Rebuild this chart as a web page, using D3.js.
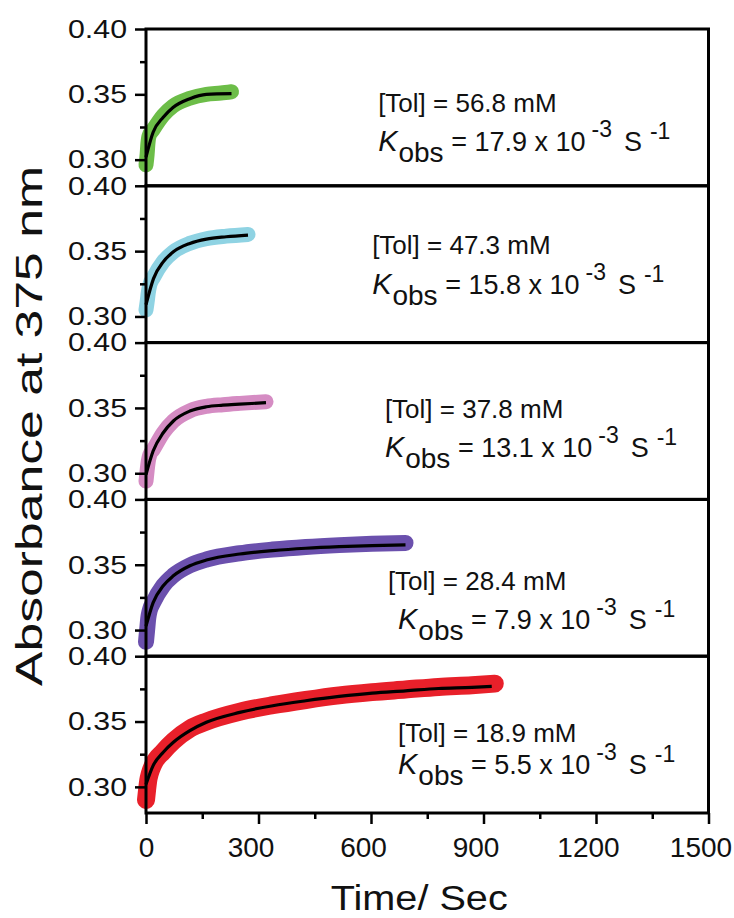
<!DOCTYPE html>
<html lang="en">
<head>
<meta charset="UTF-8">
<title>Absorbance at 375 nm vs time</title>
<script src="https://cdn.jsdelivr.net/npm/d3@7"></script>
<style>
  body { margin: 0; background: #fff; }
  svg text { font-family: "Liberation Sans", Arial, sans-serif; fill: #111; }
</style>
</head>
<body>
<svg id="chart" width="734" height="918"></svg>
<script>
// values, top panel first
const tolConc = ["56.8", "47.3", "37.8", "28.4", "18.9"];
const kObs = ["17.9", "15.8", "13.1", "7.9", "5.5"];

const yTicks = [0.40, 0.35, 0.30];
const yMinorTicks = [0.375, 0.325];
const xTicks = [0, 300, 600, 900, 1200, 1500];
const xMinorTicks = [150, 450, 750, 1050, 1350];

// [time (s), absorbance]
const greenData = [[0,0.296],[3,0.304],[5,0.312],[8,0.318],[19,0.323],[46,0.334],[72,0.341],[117,0.347],[161,0.350],[200,0.351],[228,0.352]];
const greenFit  = [[0,0.302],[19,0.321],[46,0.3325],[72,0.340],[117,0.3467],[161,0.350],[228,0.3505]];

const blueData = [[0,0.305],[3,0.311],[6,0.318],[10,0.324],[20,0.330],[46,0.342],[73,0.3495],[117,0.356],[161,0.3595],[214,0.3615],[272,0.3628]];
const blueFit  = [[0,0.309],[20,0.329],[46,0.3418],[73,0.3495],[117,0.3559],[161,0.3592],[214,0.361],[272,0.3623]];

const pinkData = [[0,0.294],[3,0.302],[6,0.309],[10,0.314],[19,0.318],[46,0.331],[73,0.340],[117,0.3478],[161,0.3512],[205,0.3525],[250,0.3535],[320,0.3548]];
const pinkFit  = [[0,0.299],[19,0.317],[46,0.331],[73,0.340],[117,0.3476],[161,0.3509],[205,0.3521],[250,0.3529],[320,0.354]];

const purpleData = [[0,0.291],[3,0.300],[6,0.309],[10,0.315],[19,0.321],[46,0.334],[73,0.3418],[117,0.3495],[161,0.354],[250,0.3588],[338,0.3616],[426,0.3636],[515,0.365],[603,0.366],[692,0.3667]];
const purpleFit  = [[0,0.303],[19,0.321],[46,0.3339],[73,0.3415],[117,0.3492],[161,0.3536],[250,0.3582],[338,0.3608],[426,0.3626],[515,0.3638],[603,0.3646],[692,0.3652]];

const redData = [[0,0.290],[3,0.298],[6,0.305],[10,0.310],[19,0.317],[46,0.327],[73,0.335],[117,0.3445],[161,0.350],[250,0.3575],[338,0.3625],[426,0.3665],[515,0.370],[603,0.3725],[692,0.3745],[780,0.3765],[869,0.3778],[930,0.379]];
const redFit  = [[0,0.302],[19,0.3163],[46,0.3265],[73,0.3341],[117,0.343],[161,0.3494],[250,0.357],[338,0.3621],[426,0.3659],[515,0.3692],[603,0.3718],[692,0.3735],[780,0.3753],[869,0.3761],[922,0.3769]];

// where the two text lines sit, in data units (time, absorbance)
const tolAt  = [[619,0.3364],[603,0.3478],[637,0.3423],[645,0.3306],[672,0.3343]];
const kobsAt = [[619,0.3066],[603,0.3171],[637,0.3124],[672,0.3008],[672,0.3098]];

const panels = [
  { data: greenData,  fit: greenFit,  color: "#6cbd48", width: 15 },
  { data: blueData,   fit: blueFit,   color: "#8fd3e3", width: 15 },
  { data: pinkData,   fit: pinkFit,   color: "#d58cc3", width: 15 },
  { data: purpleData, fit: purpleFit, color: "#6b50ad", width: 16 },
  { data: redData,    fit: redFit,    color: "#e8202a", width: 18 }
];

const svg = d3.select("#chart");
const plotLeft = 146, plotRight = 708.5, plotTop = 29, plotBottom = 813;
const panelH = (plotBottom - plotTop) / panels.length;

const x = d3.scaleLinear().domain([0, 1500]).range([plotLeft, plotRight]);

panels.forEach((p, i) => {
  const y0 = plotTop + i * panelH;
  const y = d3.scaleLinear().domain([0.28, 0.40]).range([y0 + panelH, y0]);
  const g = svg.append("g");

  const line = d3.line()
    .x(d => x(d[0]))
    .y(d => y(d[1]))
    .curve(d3.curveMonotoneX);

  // data trace
  g.append("path")
    .datum(p.data)
    .attr("d", line)
    .attr("fill", "none")
    .attr("stroke", p.color)
    .attr("stroke-width", p.width)
    .attr("stroke-linecap", "round")
    .attr("stroke-linejoin", "round");

  // fit
  g.append("path")
    .datum(p.fit)
    .attr("d", line)
    .attr("fill", "none")
    .attr("stroke", "#000")
    .attr("stroke-width", 3.2);

  // y axis
  const yAxis = g.append("g")
    .attr("transform", `translate(${plotLeft},0)`)
    .call(d3.axisLeft(y).tickValues(yTicks).tickFormat(d3.format(".2f"))
      .tickSize(11).tickPadding(8).tickSizeOuter(0));
  yAxis.select(".domain").remove();
  yAxis.selectAll("line").attr("stroke", "#000").attr("stroke-width", 2.5);
  yAxis.selectAll("text")
    .attr("font-size", 26)
    .attr("textLength", 59)
    .attr("lengthAdjust", "spacingAndGlyphs")
    .attr("fill", "#111");

  const yMinor = g.append("g")
    .attr("transform", `translate(${plotLeft},0)`)
    .call(d3.axisLeft(y).tickValues(yMinorTicks).tickFormat("").tickSize(6).tickSizeOuter(0));
  yMinor.select(".domain").remove();
  yMinor.selectAll("line").attr("stroke", "#000").attr("stroke-width", 2.5);

  // panel frame
  g.append("rect")
    .attr("x", plotLeft).attr("y", y0)
    .attr("width", plotRight - plotLeft).attr("height", panelH)
    .attr("fill", "none")
    .attr("stroke", "#000")
    .attr("stroke-width", 3);

  // labels
  g.append("text")
    .attr("x", x(tolAt[i][0]))
    .attr("y", y(tolAt[i][1]))
    .attr("font-size", 26)
    .text(`[Tol] = ${tolConc[i]} mM`);

  const k = g.append("text")
    .attr("x", x(kobsAt[i][0]))
    .attr("y", y(kobsAt[i][1]))
    .attr("font-size", 27);
  k.append("tspan").attr("font-style", "italic").attr("font-size", 29).text("K");
  k.append("tspan").attr("font-size", 28).attr("dx", 1).attr("dy", 11).text("obs");
  k.append("tspan").attr("dy", -11).text(` = ${kObs[i]} x 10`);
  k.append("tspan").attr("font-size", 23).attr("dx", 6).attr("dy", -14).text("-3");
  k.append("tspan").attr("dx", 12).attr("dy", 14).text("S");
  k.append("tspan").attr("font-size", 23).attr("dx", 8).attr("dy", -12).text("-1");
});

// x axis
const xAxis = svg.append("g")
  .attr("transform", `translate(0,${plotBottom})`)
  .call(d3.axisBottom(x).tickValues(xTicks).tickFormat(d3.format("d"))
    .tickSize(11).tickPadding(13).tickSizeOuter(0));
xAxis.select(".domain").remove();
xAxis.selectAll("line").attr("stroke", "#000").attr("stroke-width", 2.5);
xAxis.selectAll("text")
  .attr("font-size", 28)
  .attr("dx", d => d === 0 ? 0 : -8)
  .attr("fill", "#111");

const xMinor = svg.append("g")
  .attr("transform", `translate(0,${plotBottom})`)
  .call(d3.axisBottom(x).tickValues(xMinorTicks).tickFormat("").tickSize(6).tickSizeOuter(0));
xMinor.select(".domain").remove();
xMinor.selectAll("line").attr("stroke", "#000").attr("stroke-width", 2.5);

// axis titles
svg.append("text")
  .attr("x", (plotLeft + plotRight) / 2 - 8)
  .attr("y", 910)
  .attr("text-anchor", "middle")
  .attr("font-size", 35)
  .attr("textLength", 177)
  .attr("lengthAdjust", "spacingAndGlyphs")
  .text("Time/ Sec");

svg.append("text")
  .attr("transform", `translate(42,${(plotTop + plotBottom) / 2 + 5}) rotate(-90)`)
  .attr("text-anchor", "middle")
  .attr("font-size", 36)
  .attr("textLength", 520)
  .attr("lengthAdjust", "spacingAndGlyphs")
  .text("Absorbance at 375 nm");
</script>
</body>
</html>
